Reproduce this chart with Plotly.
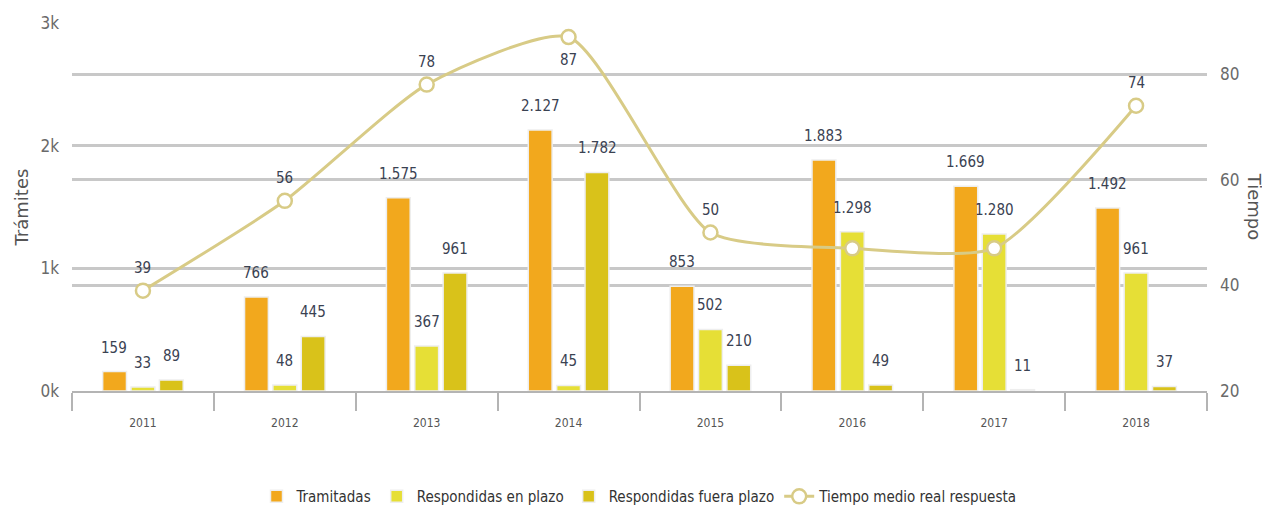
import plotly.graph_objects as go

years = ["2011", "2012", "2013", "2014", "2015", "2016", "2017", "2018"]
tramitadas = [159, 766, 1575, 2127, 853, 1883, 1669, 1492]
en_plazo = [33, 48, 367, 45, 502, 1298, 1280, 961]
fuera_plazo = [89, 445, 961, 1782, 210, 49, 11, 37]
tiempo = [39, 56, 78, 87, 50, 47, 47, 74]
tiempo_labels = ["39", "56", "78", "87", "50", "", "", "74"]
tiempo_label_pos = [1, 1, 1, -1, 1, 1, 1, 1]  # +1 above, -1 below

names = ["Tramitadas", "Respondidas en plazo", "Respondidas fuera plazo", "Tiempo medio real respuesta"]
colors = ["#F2A81D", "#E6DF36", "#D9C21A"]
line_color = "#D8CB86"
FONT = "Liberation Sans Narrow, DejaVu Sans Condensed, Roboto, sans-serif"
LABEL_COLOR = "#3a4252"

def fmt(v):
    return f"{v:,}".replace(",", ".")

fig = go.Figure()
for name, vals, col in zip(names[:3], [tramitadas, en_plazo, fuera_plazo], colors):
    fig.add_trace(go.Bar(
        x=years, y=vals, name=name,
        marker=dict(color=col, line=dict(color="#eeeeee", width=1.5)),
        yaxis="y",
    ))

fig.add_trace(go.Scatter(
    x=years, y=tiempo, name=names[3], yaxis="y2",
    mode="lines+markers",
    line=dict(color=line_color, width=3, shape="spline", smoothing=0.6),
    marker=dict(symbol="circle", size=14, color="white",
                line=dict(color=line_color, width=2.5)),
))

annotations = []
shifts = [-28.5, 0, 28.5]
for vals, xs in zip([tramitadas, en_plazo, fuera_plazo], shifts):
    for i, v in enumerate(vals):
        annotations.append(dict(
            x=i, y=v, xref="x", yref="y", text=fmt(v), showarrow=False,
            xshift=xs, yshift=24, yanchor="middle",
            font=dict(family=FONT, size=15, color=LABEL_COLOR),
        ))
for i, (v, lab, pos) in enumerate(zip(tiempo, tiempo_labels, tiempo_label_pos)):
    if lab:
        annotations.append(dict(
            x=i, y=v, xref="x", yref="y2", text=lab, showarrow=False,
            yshift=23 * pos, yanchor="middle",
            font=dict(family=FONT, size=15, color=LABEL_COLOR),
        ))

annotations.append(dict(
    x=-0.0445, y=0.5, xref="paper", yref="paper", text="Trámites",
    textangle=-90, showarrow=False, xanchor="center", yanchor="middle",
    font=dict(family="DejaVu Sans, sans-serif", size=18, color="#555555"),
))
annotations.append(dict(
    x=1.0425, y=0.5, xref="paper", yref="paper", text="Tiempo",
    textangle=90, showarrow=False, xanchor="center", yanchor="middle",
    font=dict(family="DejaVu Sans, sans-serif", size=18, color="#555555"),
))

fig.update_layout(
    width=1262, height=503,
    margin=dict(l=64, r=63, t=15, b=120, autoexpand=False),
    paper_bgcolor="white", plot_bgcolor="white",
    barmode="group", bargap=0.40, bargroupgap=0.16,
    font=dict(family=FONT, color="#555555"),
    xaxis=dict(
        type="category", range=[-0.5, 7.5], showgrid=False, showline=True,
        linecolor="#b4b4b4", linewidth=2,
        ticks="outside", tickson="boundaries", ticklen=18, tickwidth=2, tickcolor="#b4b4b4",
        tickfont=dict(family=FONT, size=12, color="#555555"), ticklabelstandoff=20,
        automargin=False,
    ),
    yaxis=dict(
        range=[0, 3000], tickvals=[0, 1000, 2000, 3000], ticktext=["0k", "1k", "2k", "3k"],
        showgrid=True, gridcolor="#c8c8c8", gridwidth=2.5, zeroline=False,
        tickfont=dict(family=FONT, size=17, color="#6a6a6a"), ticklabelstandoff=12,
        automargin=False,
    ),
    yaxis2=dict(
        overlaying="y", side="right", range=[20, 89.66], tickvals=[20, 40, 60, 80],
        showgrid=True, gridcolor="#c8c8c8", gridwidth=2.5, zeroline=False,
        tickfont=dict(family=FONT, size=17, color="#6a6a6a"), ticklabelstandoff=12,
        automargin=False,
    ),
    legend=dict(
        orientation="h", x=0.5, xanchor="center", y=-0.287, yanchor="middle",
        font=dict(family=FONT, size=15, color="#333333"),
        traceorder="normal",
    ),
    annotations=annotations,
)

fig.write_html("out.html")
